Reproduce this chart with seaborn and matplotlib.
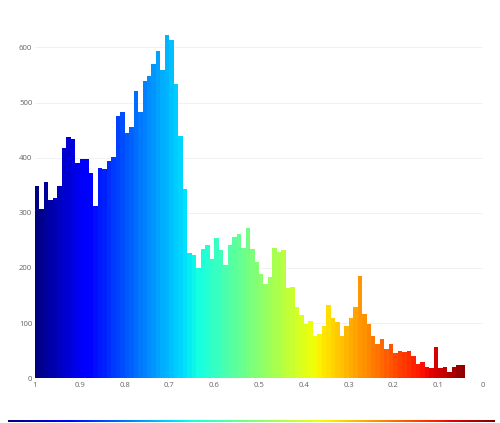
import numpy as np
import pandas as pd
import matplotlib
matplotlib.use("Agg")
import matplotlib.pyplot as plt
import seaborn as sns

# histogram counts (bins of 0.01, from 1.0 going down)
counts = [349, 307, 356, 323, 327, 348, 418, 438, 434, 390,
          397, 397, 372, 313, 381, 379, 394, 402, 476, 482,
          444, 456, 521, 482, 539, 549, 570, 594, 559, 622,
          614, 533, 439, 343, 228, 223, 200, 235, 241, 217,
          255, 232, 205, 241, 256, 262, 237, 273, 234, 210,
          190, 171, 183, 236, 229, 233, 163, 166, 129, 114,
          98, 103, 76, 80, 95, 132, 109, 102, 76, 95,
          109, 129, 185, 116, 98, 76, 62, 72, 53, 62,
          45, 50, 48, 49, 41, 26, 29, 21, 19, 57,
          19, 20, 11, 20, 25, 25, 1]
bin_width = 0.01
x_ticks = [1, 0.9, 0.8, 0.7, 0.6, 0.5, 0.4, 0.3, 0.2, 0.1, 0]
x_labels = ["1", "0.9", "0.8", "0.7", "0.6", "0.5", "0.4", "0.3", "0.2", "0.1", "0"]
y_ticks = [0, 100, 200, 300, 400, 500, 600]

centers = np.round(1 - bin_width * (np.arange(len(counts)) + 0.5), 3)
edges = [round(1 - bin_width * k, 3) for k in range(len(counts), -1, -1)]
df = pd.DataFrame({"value": centers, "count": counts})

sns.set_style("white")
plt.rcParams["font.family"] = ["Open Sans", "DejaVu Sans"]

fig = plt.figure(figsize=(5, 4.23), dpi=100)
ax = fig.add_axes([0.07, 0.1057, 0.896, 0.854])

sns.histplot(data=df, x="value", weights="count", bins=edges, ax=ax,
             linewidth=0, alpha=1, zorder=2)

# colour each bar by its position, jet running from 1 (navy) to the lowest edge (dark red)
cmap = plt.get_cmap("jet")
norm = plt.Normalize(min(edges), 1)
for p in ax.patches:
    c = p.get_x() + p.get_width() / 2
    p.set_facecolor(cmap(1 - norm(c)))
    p.set_edgecolor("none")

ax.set_xlim(1, 0)
ax.set_ylim(0, 655)
ax.set_xticks(x_ticks)
ax.set_xticklabels(x_labels)
ax.set_yticks(y_ticks)
ax.set_xlabel("")
ax.set_ylabel("")
ax.tick_params(axis="both", length=0, labelsize=5.6, colors="#666666")
ax.tick_params(axis="x", pad=3)
ax.tick_params(axis="y", pad=2)
ax.grid(axis="y", color="#f0f0f0", linewidth=0.6, zorder=0)
ax.set_axisbelow(True)
for s in ax.spines.values():
    s.set_visible(False)

# thin colour bar at the bottom
cax = fig.add_axes([0.016, 0.002, 0.974, 0.006])
sm = matplotlib.cm.ScalarMappable(cmap=cmap, norm=plt.Normalize(0, 1))
cb = fig.colorbar(sm, cax=cax, orientation="horizontal")
cb.outline.set_visible(False)
cax.set_xticks([])
cax.set_yticks([])

fig.savefig("out.png", dpi=100)
